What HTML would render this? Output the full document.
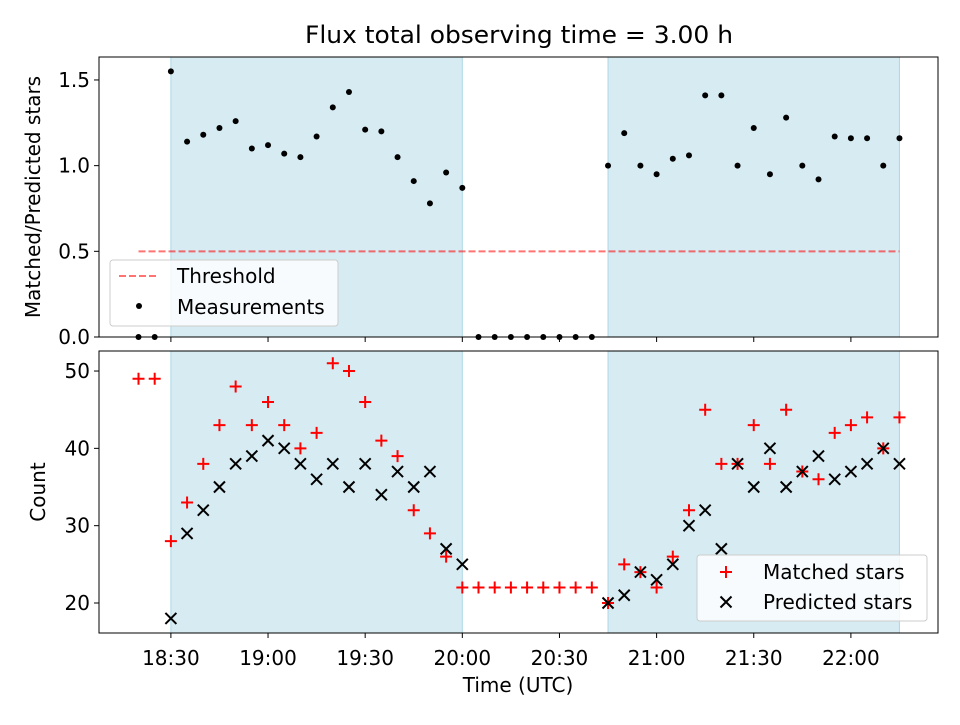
<!DOCTYPE html>
<html><head><meta charset="utf-8"><style>
body{margin:0;background:#fff;font-family:"Liberation Sans","DejaVu Sans",sans-serif;}
svg text{font-family:"DejaVu Sans","Liberation Sans",sans-serif;}
</style></head><body>
<svg id="c" width="960" height="720" xmlns="http://www.w3.org/2000/svg"></svg>
<script>
// time in minutes after 18:00
const times=[20,25,30,35,40,45,50,55,60,65,70,75,80,85,90,95,100,105,110,115,120,125,130,135,140,145,150,155,160,165,170,175,180,185,190,195,200,205,210,215,220,225,230,235,240,245,250,255];
const ratio=[0,0,1.55,1.14,1.18,1.22,1.26,1.10,1.12,1.07,1.05,1.17,1.34,1.43,1.21,1.20,1.05,0.91,0.78,0.96,0.87,0,0,0,0,0,0,0,0,1.00,1.19,1.00,0.95,1.04,1.06,1.41,1.41,1.00,1.22,0.95,1.28,1.00,0.92,1.17,1.16,1.16,1.00,1.16];
const matched=[49,49,28,33,38,43,48,43,46,43,40,42,51,50,46,41,39,32,29,26,22,22,22,22,22,22,22,22,22,20,25,24,22,26,32,45,38,38,43,38,45,37,36,42,43,44,40,44];
const predicted=[null,null,18,29,32,35,38,39,41,40,38,36,38,35,38,34,37,35,37,27,25,null,null,null,null,null,null,null,null,20,21,24,23,25,30,32,27,38,35,40,35,37,39,36,37,38,40,38];
const spans=[[30,120],[165,255]];
const threshold=0.5;
const xTicks=[30,60,90,120,150,180,210,240];
const xTickLabels=["18:30","19:00","19:30","20:00","20:30","21:00","21:30","22:00"];
const topTicks=[0,0.5,1.0,1.5];
const botTicks=[20,30,40,50];

const NS="http://www.w3.org/2000/svg";
const svg=document.getElementById('c');
function el(t,a,p){const e=document.createElementNS(NS,t);for(const k in a)e.setAttribute(k,a[k]);(p||svg).appendChild(e);return e;}
const L=99,R=938;
const x=m=>L+(m-7.8)*(R-L)/(266.9-7.8);
const T={t:57,b:337,min:0,max:1.634};
const B={t:351,b:633,min:16.12,max:52.59};
const y=(A,v)=>A.b-(v-A.min)*(A.b-A.t)/(A.max-A.min);
const FS=20;

function panel(A,name){
  const g=el('g',{});
  
  
  spans.forEach(s=>{const r=el('rect',{x:x(s[0]),y:A.t,width:x(s[1])-x(s[0]),height:A.b-A.t,fill:'#add8e6','fill-opacity':0.5,stroke:'#add8e6'},g);
    });
  return g;
}
function frame(A,ticks,fmt,showLabels,name){
  const g=el('g',{});
  
  
  el('rect',{x:L,y:A.t,width:R-L,height:A.b-A.t,fill:'none',stroke:'#000','stroke-width':1},g);
  ticks.forEach(v=>{const yy=y(A,v);el('line',{x1:L-5,x2:L,y1:yy,y2:yy,stroke:'#000'},g);
    const t=el('text',{x:L-9,y:yy+7,'text-anchor':'end','font-size':FS},g);t.textContent=fmt(v);});
  xTicks.forEach((m,i)=>{el('line',{x1:x(m),x2:x(m),y1:A.b,y2:A.b+5,stroke:'#000'},g);
    if(showLabels){const t=el('text',{x:x(m),y:A.b+32,'text-anchor':'middle','font-size':FS},g);t.textContent=xTickLabels[i];}});
}
// top
const gt=panel(T,'top-panel');
const th=el('line',{x1:x(times[0]),x2:x(times[times.length-1]),y1:y(T,threshold),y2:y(T,threshold),stroke:'#ff0000','stroke-opacity':0.55,'stroke-width':2,'stroke-dasharray':'7,3'});

ratio.forEach((v,i)=>{const c=el('circle',{cx:x(times[i]),cy:y(T,v),r:3,fill:'#000'});
  });
frame(T,topTicks,v=>v.toFixed(1),false,'top-axes');
// bottom
const gb=panel(B,'bottom-panel');
matched.forEach((v,i)=>{const cx=x(times[i]),cy=y(B,v);
  const p=el('path',{d:`M${cx-6} ${cy}H${cx+6}M${cx} ${cy-6}V${cy+6}`,stroke:'#ff0000','stroke-width':2});
  });
predicted.forEach((v,i)=>{if(v===null)return;const cx=x(times[i]),cy=y(B,v);
  const p=el('path',{d:`M${cx-5.5} ${cy-5.5}L${cx+5.5} ${cy+5.5}M${cx-5.5} ${cy+5.5}L${cx+5.5} ${cy-5.5}`,stroke:'#000','stroke-width':2});
  });
frame(B,botTicks,v=>v,true,'bottom-axes');
// titles
function txt(s,a,name){const t=el('text',a);t.textContent=s;return t;}
txt('Flux total observing time = 3.00 h',{x:519,y:43,'text-anchor':'middle','font-size':24,textLength:428,lengthAdjust:'spacingAndGlyphs'},'chart-title');
txt('Matched/Predicted stars',{x:0,y:0,'text-anchor':'middle','font-size':FS,transform:'translate(40,197) rotate(-90)'},'top-y-axis-title');
txt('Count',{x:0,y:0,'text-anchor':'middle','font-size':FS,transform:'translate(45,492) rotate(-90)'},'bottom-y-axis-title');
txt('Time (UTC)',{x:518,y:692,'text-anchor':'middle','font-size':FS},'x-axis-title');
// legends
const lg1=el('g',{});
el('rect',{x:110,y:260,width:228,height:66,rx:3,fill:'#fff','fill-opacity':0.8,stroke:'#ccc'},lg1);
el('line',{x1:119,x2:159,y1:276,y2:276,stroke:'#ff0000','stroke-opacity':0.55,'stroke-width':2,'stroke-dasharray':'7,3'},lg1);
el('circle',{cx:139,cy:306,r:3,fill:'#000'},lg1);
el('text',{x:177,y:283,'font-size':FS},lg1).textContent='Threshold';
el('text',{x:177,y:314,'font-size':FS},lg1).textContent='Measurements';
const lg2=el('g',{});
el('rect',{x:697,y:555,width:230,height:66,rx:3,fill:'#fff','fill-opacity':0.8,stroke:'#ccc'},lg2);
el('path',{d:'M720 572H732M726 566V578',stroke:'#ff0000','stroke-width':2},lg2);
el('path',{d:'M720.5 596.5L731.5 607.5M720.5 607.5L731.5 596.5',stroke:'#000','stroke-width':2},lg2);
el('text',{x:763,y:579,'font-size':FS},lg2).textContent='Matched stars';
el('text',{x:763,y:609,'font-size':FS},lg2).textContent='Predicted stars';
</script>
</body></html>
